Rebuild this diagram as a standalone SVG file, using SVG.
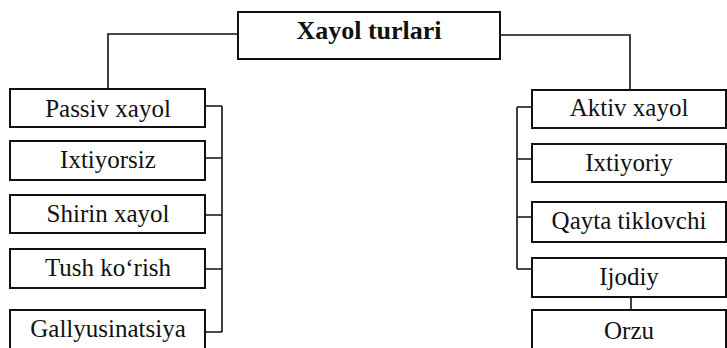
<svg xmlns="http://www.w3.org/2000/svg" width="727" height="348" viewBox="0 0 727 348">
<style>
.box{fill:#fff;stroke:#111;stroke-width:2}
.lbl{font-family:"Liberation Serif","Times New Roman",serif;font-size:25px;fill:#111;text-anchor:middle}
.title{font-weight:bold;font-size:26px}
.con{fill:none;stroke:#111;stroke-width:1.6}
</style>
<rect width="727" height="348" fill="#fff"/>
<g id="connectors">
<path class="con" d="M238,34 H108 V89"/>
<path class="con" d="M500,35 H630 V90"/>
<path class="con" d="M222,106 V332 M205,106 H222 M205,158 H222 M205,215 H222 M205,269 H222 M205,332 H222"/>
<path class="con" d="M517,107 V269 M517,107 H532 M517,159 H532 M517,217 H532 M517,269 H532"/>
<path class="con" d="M631,297 V310"/>
</g>
<g id="xayol-turlari"><rect class="box" x="238" y="12" width="262" height="47"/><text class="lbl title" x="369" y="39">Xayol turlari</text></g>
<g id="passiv-xayol"><rect class="box" x="10" y="89" width="195" height="38"/><text class="lbl" x="108" y="117">Passiv xayol</text></g>
<g id="ixtiyorsiz"><rect class="box" x="10" y="141" width="195" height="39"/><text class="lbl" x="108" y="168">Ixtiyorsiz</text></g>
<g id="shirin-xayol"><rect class="box" x="10" y="195" width="195" height="38"/><text class="lbl" x="108" y="222">Shirin xayol</text></g>
<g id="tush-korish"><rect class="box" x="10" y="249" width="195" height="39"/><text class="lbl" x="108" y="276">Tush ko‘rish</text></g>
<g id="gallyusinatsiya"><rect class="box" x="10" y="310" width="195" height="40"/><text class="lbl" x="108" y="337">Gallyusinatsiya</text></g>
<g id="aktiv-xayol"><rect class="box" x="532" y="90" width="194" height="38"/><text class="lbl" x="629" y="116">Aktiv xayol</text></g>
<g id="ixtiyoriy"><rect class="box" x="532" y="144" width="194" height="38"/><text class="lbl" x="629" y="171">Ixtiyoriy</text></g>
<g id="qayta-tiklovchi"><rect class="box" x="532" y="202" width="194" height="40"/><text class="lbl" x="629" y="229">Qayta tiklovchi</text></g>
<g id="ijodiy"><rect class="box" x="532" y="258" width="194" height="39"/><text class="lbl" x="629" y="285">Ijodiy</text></g>
<g id="orzu"><rect class="box" x="532" y="310" width="194" height="40"/><text class="lbl" x="629" y="339">Orzu</text></g>
</svg>
